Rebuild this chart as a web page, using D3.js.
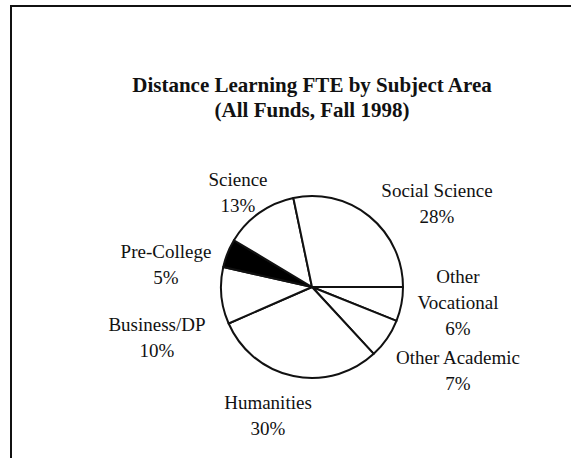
<!DOCTYPE html>
<html>
<head>
<meta charset="utf-8">
<script src="https://cdn.jsdelivr.net/npm/d3@7"></script>
<style>
  body { margin: 0; background: #fff; }
  svg { display: block; }
</style>
</head>
<body>
<svg></svg>
<script>
const width = 571, height = 458;

// Data (clockwise from 3 o'clock)
const subjects = ["Other Vocational", "Other Academic", "Humanities", "Business/DP", "Pre-College", "Science", "Social Science"];
const shares = [6, 7, 30, 10, 5, 13, 28];
const fills = ["#fff", "#fff", "#fff", "#fff", "#000", "#fff", "#fff"];
// label lines for each slice, with where the label sits
const labelLines = [["Other", "Vocational", "6%"], ["Other Academic", "7%"], ["Humanities", "30%"], ["Business/DP", "10%"], ["Pre-College", "5%"], ["Science", "13%"], ["Social Science", "28%"]];
const labelPos = [[458, 283], [458, 364], [268, 409], [157, 331], [166, 258], [238, 186], [437, 197]];

const svg = d3.select("svg").attr("width", width).attr("height", height);

// frame (left + top only, like the scan)
svg.append("path")
    .attr("d", `M11,${height} L11,6 L${width},6`)
    .attr("fill", "none")
    .attr("stroke", "#111")
    .attr("stroke-width", 2);

// title
const title = svg.append("text")
    .attr("text-anchor", "middle")
    .attr("font-family", "'Liberation Serif', 'Times New Roman', serif")
    .attr("font-weight", "bold")
    .attr("font-size", 21)
    .attr("fill", "#111");
title.append("tspan").attr("x", 312).attr("y", 92).text("Distance Learning FTE by Subject Area");
title.append("tspan").attr("x", 312).attr("y", 117).text("(All Funds, Fall 1998)");

// pie
const cx = 312, cy = 287, r = 91;
const pie = d3.pie().sort(null)
    .startAngle(Math.PI / 2)
    .endAngle(Math.PI / 2 + 2 * Math.PI);
const arc = d3.arc().innerRadius(0).outerRadius(r);

const g = svg.append("g").attr("transform", `translate(${cx},${cy})`);
g.selectAll("path")
    .data(pie(shares))
    .enter().append("path")
    .attr("d", arc)
    .attr("fill", (d, i) => fills[i])
    .attr("stroke", "#111")
    .attr("stroke-width", 2)
    .attr("stroke-linejoin", "round");

// labels
const labels = svg.selectAll("text.label")
    .data(subjects)
    .enter().append("text")
    .attr("class", "label")
    .attr("text-anchor", "middle")
    .attr("font-family", "'Liberation Serif', 'Times New Roman', serif")
    .attr("font-size", 19)
    .attr("fill", "#111");

labels.each(function(d, i) {
    const t = d3.select(this);
    labelLines[i].forEach((line, k) => {
        t.append("tspan")
            .attr("x", labelPos[i][0])
            .attr("y", labelPos[i][1] + k * 26)
            .text(line);
    });
});
</script>
</body>
</html>
